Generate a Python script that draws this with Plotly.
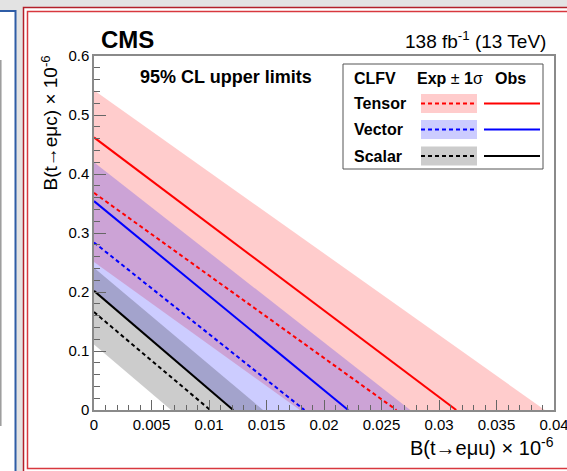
import plotly.graph_objects as go

# ---------------- data (values in units of 1e-6) ----------------
models = ["Tensor", "Vector", "Scalar"]
line_colors = ["#ff0000", "#0000ff", "#000000"]
band_colors = ["rgba(255,0,0,0.2)", "rgba(0,0,255,0.2)", "rgba(0,0,0,0.2)"]
swatch_colors = ["#ffcccc", "#ccccff", "#cccccc"]

# observed limits: intercepts on the B(t->e mu c) axis and B(t->e mu u) axis
obs_y0 = [0.462, 0.354, 0.202]
obs_x0 = [0.0315, 0.0221, 0.0121]
# expected limits
exp_y0 = [0.368, 0.284, 0.166]
exp_x0 = [0.0263, 0.0183, 0.0101]

# expected +-1 sigma band edges
tensor_up_x = [0.0, 0.0392]
tensor_up_y = [0.542, 0.0]
tensor_lo_x = [0.0, 0.0179]
tensor_lo_y = [0.251, 0.0]

vector_up_x = [0.0, 0.0275]
vector_up_y = [0.420, 0.0]
vector_lo_x = [0.0, 0.0121]
vector_lo_y = [0.202, 0.0]

scalar_up_x = [0.0, 0.0147]
scalar_up_y = [0.241, 0.0]
scalar_lo_x = [0.0, 0.0067]
scalar_lo_y = [0.111, 0.0]

x_tickvals = [0, 0.005, 0.01, 0.015, 0.02, 0.025, 0.03, 0.035, 0.04]
x_ticktext = ["0", "0.005", "0.01", "0.015", "0.02", "0.025", "0.03", "0.035", "0.04"]
y_tickvals = [0, 0.1, 0.2, 0.3, 0.4, 0.5, 0.6]
y_ticktext = ["0", "0.1", "0.2", "0.3", "0.4", "0.5", "0.6"]

bands = [
    (tensor_up_x, tensor_up_y, tensor_lo_x, tensor_lo_y),
    (vector_up_x, vector_up_y, vector_lo_x, vector_lo_y),
    (scalar_up_x, scalar_up_y, scalar_lo_x, scalar_lo_y),
]

# ---------------- layout geometry (pixels) ----------------
W_IMG, H_IMG = 567, 471
L, R, T, B = 94, 554, 56, 410
PW, PH = R - L, B - T


def px(x):
    return (x - L) / PW


def py(y):
    return (B - y) / PH


FONT = "Liberation Sans, Arial, Helvetica, sans-serif"

fig = go.Figure()

# bands
for i in [0, 1, 2]:
    ux, uy, lx, ly = bands[i]
    fig.add_trace(go.Scatter(
        x=list(ux) + list(reversed(lx)),
        y=list(uy) + list(reversed(ly)),
        fill="toself", fillcolor=band_colors[i],
        line=dict(width=0), mode="lines", hoverinfo="skip", showlegend=False))

# expected (dashed) and observed (solid) lines
for i in range(3):
    fig.add_trace(go.Scatter(
        x=[0, exp_x0[i]], y=[exp_y0[i], 0], mode="lines",
        line=dict(color=line_colors[i], width=2, dash="4px,3px"),
        showlegend=False, hoverinfo="skip"))
    fig.add_trace(go.Scatter(
        x=[0, obs_x0[i]], y=[obs_y0[i], 0], mode="lines",
        line=dict(color=line_colors[i], width=2),
        showlegend=False, hoverinfo="skip"))

shapes = []
# screenshot-like frames
shapes.append(dict(type="rect", xref="paper", yref="paper", layer="below",
                   x0=px(-10), x1=px(15.5), y0=py(11), y1=py(480),
                   fillcolor="white", line=dict(color="#2f5da6", width=2)))
shapes.append(dict(type="line", xref="paper", yref="paper", layer="below",
                   x0=px(0.8), x1=px(0.8), y0=py(60), y1=py(426),
                   line=dict(color="#9a9a9a", width=1.5)))
shapes.append(dict(type="rect", xref="paper", yref="paper", layer="below",
                   x0=px(23.5), x1=px(600), y0=py(7.5), y1=py(472.5),
                   fillcolor="white", line=dict(color="#b3202a", width=1.5)))
shapes.append(dict(type="rect", xref="paper", yref="paper", layer="below",
                   x0=px(27.5), x1=px(598), y0=py(11.5), y1=py(468.5),
                   fillcolor="white", line=dict(color="#d8383f", width=1.5)))

# legend box
shapes.append(dict(type="rect", xref="paper", yref="paper", layer="above",
                   x0=px(343), x1=px(543), y0=py(64), y1=py(169),
                   fillcolor="white", line=dict(color="#555555", width=1)))
row_y = [103.5, 129.5, 156]
annotations = []
for i in range(3):
    yc = row_y[i]
    shapes.append(dict(type="rect", xref="paper", yref="paper", layer="above",
                       x0=px(421), x1=px(477), y0=py(yc - 9.5), y1=py(yc + 9.5),
                       fillcolor=swatch_colors[i], line=dict(width=0)))
    shapes.append(dict(type="line", xref="paper", yref="paper", layer="above",
                       x0=px(421), x1=px(477), y0=py(yc), y1=py(yc),
                       line=dict(color=line_colors[i], width=2, dash="4px,3px")))
    shapes.append(dict(type="line", xref="paper", yref="paper", layer="above",
                       x0=px(484), x1=px(540), y0=py(yc), y1=py(yc),
                       line=dict(color=line_colors[i], width=2)))
    annotations.append(dict(xref="paper", yref="paper", x=px(352), y=py(yc),
                            xanchor="left", yanchor="middle", showarrow=False,
                            text="<b>%s</b>" % models[i],
                            font=dict(family=FONT, size=16, color="black")))

annotations += [
    dict(xref="paper", yref="paper", x=px(352), y=py(78), xanchor="left", yanchor="middle",
         showarrow=False, text="<b>CLFV</b>", font=dict(family=FONT, size=16, color="black")),
    dict(xref="paper", yref="paper", x=px(450), y=py(78), xanchor="center", yanchor="middle",
         showarrow=False, text="<b>Exp</b> ± <b>1</b>σ", font=dict(family=FONT, size=16, color="black")),
    dict(xref="paper", yref="paper", x=px(510), y=py(78), xanchor="center", yanchor="middle",
         showarrow=False, text="<b>Obs</b>", font=dict(family=FONT, size=16, color="black")),
    dict(xref="paper", yref="paper", x=px(99), y=py(39), xanchor="left", yanchor="middle",
         showarrow=False, text="<b>CMS</b>", font=dict(family=FONT, size=24, color="black")),
    dict(xref="paper", yref="paper", x=px(548), y=py(40), xanchor="right", yanchor="middle",
         showarrow=False, text="138 fb<sup>-1</sup> (13 TeV)", font=dict(family=FONT, size=19, color="black")),
    dict(xref="paper", yref="paper", x=px(138), y=py(77), xanchor="left", yanchor="middle",
         showarrow=False, text="<b>95% CL upper limits</b>", font=dict(family=FONT, size=18, color="black")),
    dict(xref="paper", yref="paper", x=px(556), y=py(446), xanchor="right", yanchor="middle",
         showarrow=False, text="B(t→eμu) × 10<sup>-6</sup>", font=dict(family=FONT, size=20, color="black")),
    dict(xref="paper", yref="paper", x=px(50), y=py(54), xanchor="center", yanchor="top",
         textangle=-90, showarrow=False, text="B(t→eμc) × 10<sup>-6</sup>",
         font=dict(family=FONT, size=19, color="black")),
]

fig.update_layout(
    width=W_IMG, height=H_IMG,
    margin=dict(l=L, r=W_IMG - R, t=T, b=H_IMG - B, pad=0, autoexpand=False),
    paper_bgcolor="#e3e3e3", plot_bgcolor="white",
    showlegend=False,
    shapes=shapes, annotations=annotations,
    font=dict(family=FONT, size=15, color="black"),
)
fig.update_xaxes(
    range=[0, 0.04], tickvals=x_tickvals, ticktext=x_ticktext,
    ticks="inside", ticklen=10, tickwidth=1, tickcolor="#666666",
    minor=dict(dtick=0.001, ticks="inside", ticklen=5, tickcolor="#666666", tickwidth=1),
    showline=True, mirror=True, linecolor="#8a8a8a", linewidth=1.5,
    showgrid=False, zeroline=False, tickfont=dict(family=FONT, size=15, color="black"),
    ticklabeloverflow="allow", automargin=False,
)
fig.update_yaxes(
    range=[0, 0.6], tickvals=y_tickvals, ticktext=y_ticktext,
    ticks="inside", ticklen=12, tickwidth=1, tickcolor="#666666",
    minor=dict(dtick=0.02, ticks="inside", ticklen=6, tickcolor="#666666", tickwidth=1),
    showline=True, mirror=True, linecolor="#8a8a8a", linewidth=1.5,
    showgrid=False, zeroline=False, tickfont=dict(family=FONT, size=15, color="black"),
    ticklabeloverflow="allow", automargin=False,
)

fig.write_html("out.html")
